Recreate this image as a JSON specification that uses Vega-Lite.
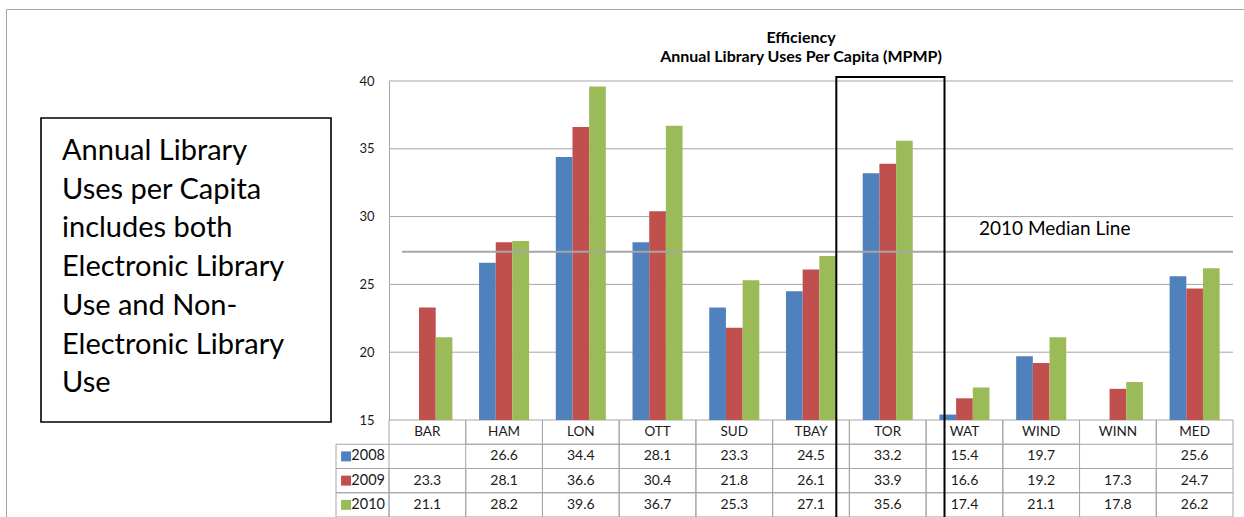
{
  "$schema": "https://vega.github.io/schema/vega-lite/v6.json",
  "autosize": "none",
  "width": 1238,
  "height": 508,
  "padding": {"left": 6, "top": 9, "right": 0, "bottom": 0},
  "config": {
    "font": "Lato",
    "view": {"stroke": "#a6a6a6", "strokeWidth": 1}
  },
  "title": {
    "text": ["Efficiency", "Annual Library Uses Per Capita (MPMP)"],
    "anchor": "middle",
    "dx": 176,
    "dy": 60,
    "fontSize": 16,
    "fontWeight": "bold",
    "lineHeight": 19,
    "color": "#000000"
  },
  "datasets": {
    "uses": [
      {"city": "BAR", "year": "2009", "value": 23.3},
      {"city": "BAR", "year": "2010", "value": 21.1},
      {"city": "HAM", "year": "2008", "value": 26.6},
      {"city": "HAM", "year": "2009", "value": 28.1},
      {"city": "HAM", "year": "2010", "value": 28.2},
      {"city": "LON", "year": "2008", "value": 34.4},
      {"city": "LON", "year": "2009", "value": 36.6},
      {"city": "LON", "year": "2010", "value": 39.6},
      {"city": "OTT", "year": "2008", "value": 28.1},
      {"city": "OTT", "year": "2009", "value": 30.4},
      {"city": "OTT", "year": "2010", "value": 36.7},
      {"city": "SUD", "year": "2008", "value": 23.3},
      {"city": "SUD", "year": "2009", "value": 21.8},
      {"city": "SUD", "year": "2010", "value": 25.3},
      {"city": "TBAY", "year": "2008", "value": 24.5},
      {"city": "TBAY", "year": "2009", "value": 26.1},
      {"city": "TBAY", "year": "2010", "value": 27.1},
      {"city": "TOR", "year": "2008", "value": 33.2},
      {"city": "TOR", "year": "2009", "value": 33.9},
      {"city": "TOR", "year": "2010", "value": 35.6},
      {"city": "WAT", "year": "2008", "value": 15.4},
      {"city": "WAT", "year": "2009", "value": 16.6},
      {"city": "WAT", "year": "2010", "value": 17.4},
      {"city": "WIND", "year": "2008", "value": 19.7},
      {"city": "WIND", "year": "2009", "value": 19.2},
      {"city": "WIND", "year": "2010", "value": 21.1},
      {"city": "WINN", "year": "2009", "value": 17.3},
      {"city": "WINN", "year": "2010", "value": 17.8},
      {"city": "MED", "year": "2008", "value": 25.6},
      {"city": "MED", "year": "2009", "value": 24.7},
      {"city": "MED", "year": "2010", "value": 26.2}
    ],
    "cities": [
      {"city": "BAR"}, {"city": "HAM"}, {"city": "LON"}, {"city": "OTT"},
      {"city": "SUD"}, {"city": "TBAY"}, {"city": "TOR"}, {"city": "WAT"},
      {"city": "WIND"}, {"city": "WINN"}, {"city": "MED"}
    ],
    "years": [{"year": "2008"}, {"year": "2009"}, {"year": "2010"}],
    "gridlines": [{"v": 20}, {"v": 25}, {"v": 30}, {"v": 35}, {"v": 40}],
    "note": [
      {"text": ["Annual Library", "Uses per Capita", "includes both", "Electronic Library", "Use and Non-", "Electronic Library", "Use"]}
    ],
    "median": [{"label": "2010 Median Line", "value": 27.4}]
  },
  "resolve": {
    "scale": {"x": "independent", "y": "independent"},
    "axis": {"x": "independent", "y": "independent"}
  },
  "layer": [
    {
      "data": {"name": "note"},
      "layer": [
        {
          "mark": {"type": "rect", "fillOpacity": 0, "stroke": "#000000", "strokeWidth": 1.6},
          "encoding": {
            "x": {"datum": 0, "type": "quantitative", "scale": {"domain": [0, 1], "range": [35, 325], "nice": false, "zero": false}, "axis": null},
            "x2": {"datum": 1},
            "y": {"datum": 0, "type": "quantitative", "scale": {"domain": [0, 1], "range": [109, 413], "nice": false, "zero": false}, "axis": null},
            "y2": {"datum": 1}
          }
        },
        {
          "mark": {"type": "text", "align": "left", "baseline": "alphabetic", "dx": 21, "dy": 42, "fontSize": 29, "lineHeight": 38.7, "color": "#000000"},
          "encoding": {
            "x": {"datum": 0, "type": "quantitative"},
            "y": {"datum": 0, "type": "quantitative"},
            "text": {"field": "text"}
          }
        }
      ]
    },
    {
      "layer": [
        {
          "data": {"name": "cities"},
          "mark": {"type": "rect", "fillOpacity": 0, "stroke": "#a6a6a6", "strokeWidth": 1},
          "encoding": {
            "x": {"field": "city", "type": "nominal", "sort": null,
                  "scale": {"domain": ["BAR", "HAM", "LON", "OTT", "SUD", "TBAY", "TOR", "WAT", "WIND", "WINN", "MED"], "range": [383, 1227], "paddingInner": 0, "paddingOuter": 0}, "axis": null},
            "y": {"datum": "hdr", "type": "nominal",
                  "scale": {"type": "band", "domain": ["hdr", "2008", "2009", "2010"], "range": [411, 508], "paddingInner": 0, "paddingOuter": 0}, "axis": null}
          }
        },
        {
          "data": {"name": "cities"},
          "mark": {"type": "text", "fontSize": 13.5, "color": "#1a1a1a", "baseline": "middle"},
          "encoding": {
            "x": {"field": "city", "type": "nominal", "sort": null},
            "y": {"datum": "hdr", "type": "nominal"},
            "text": {"field": "city"}
          }
        },
        {
          "data": {"name": "uses"},
          "mark": {"type": "rect", "fillOpacity": 0, "stroke": "#a6a6a6", "strokeWidth": 1},
          "encoding": {
            "x": {"field": "city", "type": "nominal", "sort": null},
            "y": {"field": "year", "type": "nominal"}
          }
        },
        {
          "data": {"name": "uses"},
          "mark": {"type": "text", "fontSize": 14, "color": "#1a1a1a", "baseline": "middle"},
          "encoding": {
            "x": {"field": "city", "type": "nominal", "sort": null},
            "y": {"field": "year", "type": "nominal"},
            "text": {"field": "value", "type": "quantitative", "format": ".1f"}
          }
        }
      ]
    },
    {
      "data": {"name": "years"},
      "layer": [
        {
          "mark": {"type": "rect", "fillOpacity": 0, "stroke": "#a6a6a6", "strokeWidth": 1},
          "encoding": {
            "x": {"datum": 0, "type": "quantitative", "scale": {"domain": [0, 1], "range": [330, 383], "nice": false, "zero": false}, "axis": null},
            "x2": {"datum": 1},
            "y": {"field": "year", "type": "nominal",
                  "scale": {"type": "band", "domain": ["hdr", "2008", "2009", "2010"], "range": [411, 508], "paddingInner": 0, "paddingOuter": 0}, "axis": null}
          }
        },
        {
          "mark": {"type": "square", "size": 100, "opacity": 1},
          "encoding": {
            "x": {"datum": 0.19, "type": "quantitative"},
            "y": {"field": "year", "type": "nominal"},
            "color": {"field": "year", "type": "nominal", "legend": null}
          }
        },
        {
          "mark": {"type": "text", "align": "left", "baseline": "middle", "fontSize": 14.5, "color": "#1a1a1a"},
          "encoding": {
            "x": {"datum": 0.29, "type": "quantitative"},
            "y": {"field": "year", "type": "nominal"},
            "text": {"field": "year"}
          }
        }
      ]
    },
    {
      "layer": [
        {
          "data": {"name": "gridlines"},
          "mark": {"type": "rule", "stroke": "#a6a6a6", "strokeWidth": 1},
          "encoding": {
            "x": {"datum": "BAR", "type": "nominal", "bandPosition": 0,
                  "scale": {"type": "band", "domain": ["BAR", "HAM", "LON", "OTT", "SUD", "TBAY", "TOR", "WAT", "WIND", "WINN", "MED"], "range": [383, 1227], "paddingInner": 0, "paddingOuter": 0}, "axis": null},
            "x2": {"datum": "MED", "bandPosition": 1},
            "y": {"field": "v", "type": "quantitative",
                  "scale": {"domain": [15, 40], "range": [411, 72], "nice": false, "zero": false},
                  "axis": {"title": null, "orient": "left", "values": [15, 20, 25, 30, 35, 40], "offset": -383, "ticks": false,
                           "domainColor": "#a6a6a6", "grid": false,
                           "labelFontSize": 13, "labelColor": "#1a1a1a", "labelPadding": 15}}
          }
        },
        {
          "data": {"name": "uses"},
          "mark": {"type": "bar"},
          "encoding": {
            "x": {"field": "city", "type": "nominal", "sort": null},
            "xOffset": {"field": "year", "type": "nominal", "scale": {"domain": ["2008", "2009", "2010"], "paddingInner": 0, "paddingOuter": 0.8}},
            "y": {"field": "value", "type": "quantitative"},
            "y2": {"datum": 15},
            "color": {"field": "year", "type": "nominal", "legend": null,
                      "scale": {"domain": ["2008", "2009", "2010"], "range": ["#4f81bd", "#c0504d", "#9bbb59"]}}
          }
        },
        {
          "data": {"name": "median"},
          "mark": {"type": "rule", "stroke": "#a6a6a6", "strokeWidth": 2},
          "encoding": {
            "x": {"datum": "BAR", "bandPosition": 0.17},
            "x2": {"datum": "MED", "bandPosition": 1},
            "y": {"field": "value", "type": "quantitative"}
          }
        },
        {
          "data": {"name": "median"},
          "mark": {"type": "text", "align": "left", "baseline": "alphabetic", "dy": -17, "fontSize": 19, "color": "#000000"},
          "encoding": {
            "x": {"datum": "WAT", "bandPosition": 0.69},
            "y": {"field": "value", "type": "quantitative"},
            "text": {"field": "label"}
          }
        },
        {
          "data": {"values": [{"city": "TOR"}]},
          "mark": {"type": "rect", "fillOpacity": 0, "stroke": "#000000", "strokeWidth": 2},
          "encoding": {
            "x": {"datum": "TBAY", "bandPosition": 0.83},
            "x2": {"datum": "WAT", "bandPosition": 0.24},
            "y": {"datum": 40.3, "type": "quantitative"},
            "y2": {"datum": 7}
          }
        }
      ]
    }
  ]
}
